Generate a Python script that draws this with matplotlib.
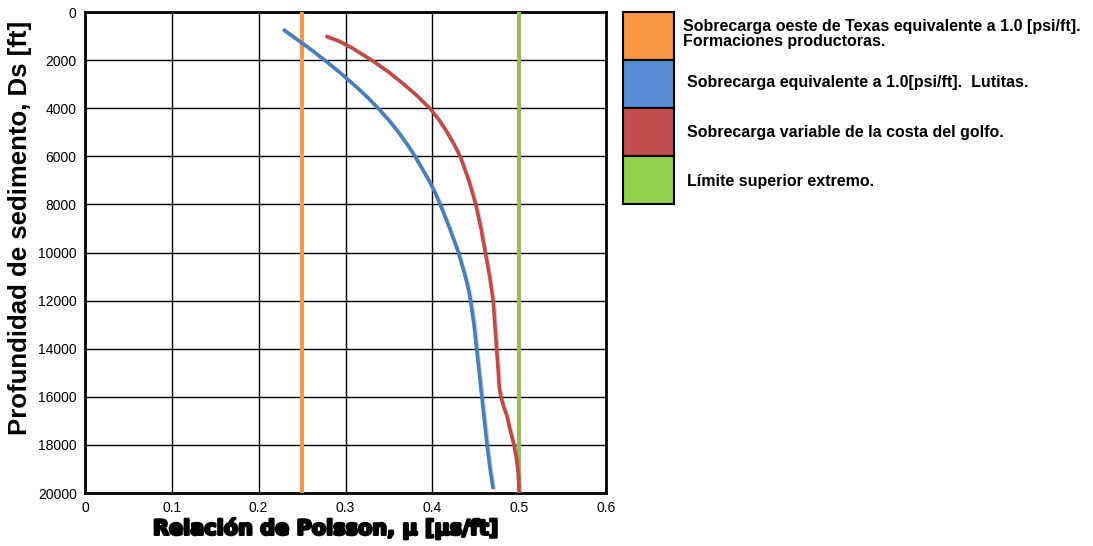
import matplotlib
matplotlib.use("Agg")
import matplotlib.pyplot as plt
from matplotlib.patches import Rectangle
import matplotlib.patheffects as pe

# ---- data ----
x_ticks = [0, 0.1, 0.2, 0.3, 0.4, 0.5, 0.6]
y_ticks = [0, 2000, 4000, 6000, 8000, 10000, 12000, 14000, 16000, 18000, 20000]

texas_x = 0.25
limit_x = 0.5

blue_depth = [720, 1000, 1500, 2000, 2500, 3000, 3500, 4000, 4500, 5000, 5500, 6000,
              6500, 7000, 7500, 8000, 9000, 10000, 11000, 11600, 12000,
              13000, 14000, 15000, 16000, 17000, 18000, 19000, 19830]
blue_mu = [0.228, 0.239, 0.258, 0.276, 0.293, 0.309, 0.324, 0.3375, 0.350, 0.361, 0.371, 0.380,
           0.388, 0.396, 0.403, 0.409, 0.420, 0.430, 0.438, 0.442, 0.444,
           0.448, 0.451, 0.454, 0.457, 0.460, 0.463, 0.4665, 0.470]

red_depth = [998, 1200, 1500, 2000, 2500, 3000, 3500, 4000, 4500, 5000, 5500, 6000,
             6500, 7000, 7500, 8000, 9000, 10000, 11000, 12000, 13000, 14000,
             15000, 15600, 16000, 16400, 16800, 17300, 18000, 18600, 19200, 20000]
red_mu = [0.277, 0.292, 0.308, 0.330, 0.350, 0.367, 0.383, 0.397, 0.408, 0.417, 0.425, 0.432,
          0.437, 0.442, 0.446, 0.450, 0.456, 0.461, 0.466, 0.470, 0.472, 0.474,
          0.476, 0.477, 0.479, 0.482, 0.486, 0.489, 0.494, 0.497, 0.499, 0.500]

legend_labels = [
    "Sobrecarga oeste de Texas equivalente a 1.0 [psi/ft].\nFormaciones productoras.",
    "Sobrecarga equivalente a 1.0[psi/ft].  Lutitas.",
    "Sobrecarga variable de la costa del golfo.",
    "Límite superior extremo.",
]
legend_colors = ["#F79646", "#558ED5", "#C0504D", "#92D050"]

plt.rcParams['font.family'] = ['Liberation Sans', 'DejaVu Sans']

W, H = 1093, 546
fig = plt.figure(figsize=(W / 100, H / 100), dpi=100)
ax = fig.add_axes([85 / W, 1 - 493 / H, (606 - 85) / W, (493 - 12) / H])

ax.set_xlim(0, 0.6)
ax.set_ylim(20000, 0)
ax.set_xticks(x_ticks)
ax.set_xticklabels([f"{v:g}" for v in x_ticks])
ax.set_yticks(y_ticks)
ax.set_yticklabels([str(v) for v in y_ticks])
ax.tick_params(length=0, labelsize=10, pad=6)
ax.grid(True, color='black', linewidth=1.0)
ax.set_axisbelow(True)
for s in ax.spines.values():
    s.set_linewidth(2.0)
    s.set_color('black')

shadow = [pe.SimpleLineShadow(offset=(1, -1), shadow_color='gray', alpha=0.35), pe.Normal()]
ax.axvline(texas_x, color="#F79646", linewidth=3, zorder=3)
ax.axvline(limit_x, color="#9BBB59", linewidth=3, zorder=3)
ax.plot(blue_mu, blue_depth, color="#4A7EBB", linewidth=2.6, zorder=4,
        solid_capstyle='butt', solid_joinstyle='round', path_effects=shadow)
ax.plot(red_mu, red_depth, color="#BE4B48", linewidth=2.6, zorder=4,
        solid_capstyle='butt', solid_joinstyle='round', path_effects=shadow)

fig.text(326 / W, 1 - 528 / H, "Relación de Poisson, μ [μs/ft]", fontsize=15,
         fontweight='bold', family=['DejaVu Sans'], ha='center', va='center',
         path_effects=[pe.withStroke(linewidth=1.8, foreground='black')])
fig.text(20 / W, 1 - 228 / H, "Profundidad de sedimento, Ds [ft]", fontsize=18.5,
         fontweight='bold', rotation=90, ha='center', va='center')

# legend boxes
box_x0, box_x1 = 623, 674
tops = [12, 60, 108, 156]
text_y = [34, 83, 133, 182]
text_x = [683, 687, 687, 687]
for i, (lab, col) in enumerate(zip(legend_labels, legend_colors)):
    y0 = tops[i]
    fig.patches.append(Rectangle((box_x0 / W, 1 - (y0 + 48) / H), (box_x1 - box_x0) / W, 48 / H,
                                 transform=fig.transFigure, facecolor=col, edgecolor='black',
                                 linewidth=1.5))
    fig.text(text_x[i] / W, 1 - text_y[i] / H, lab, fontsize=11.5, fontweight='bold',
             ha='left', va='center', linespacing=1.0)

fig.savefig("out.png", dpi=100, facecolor='white')
